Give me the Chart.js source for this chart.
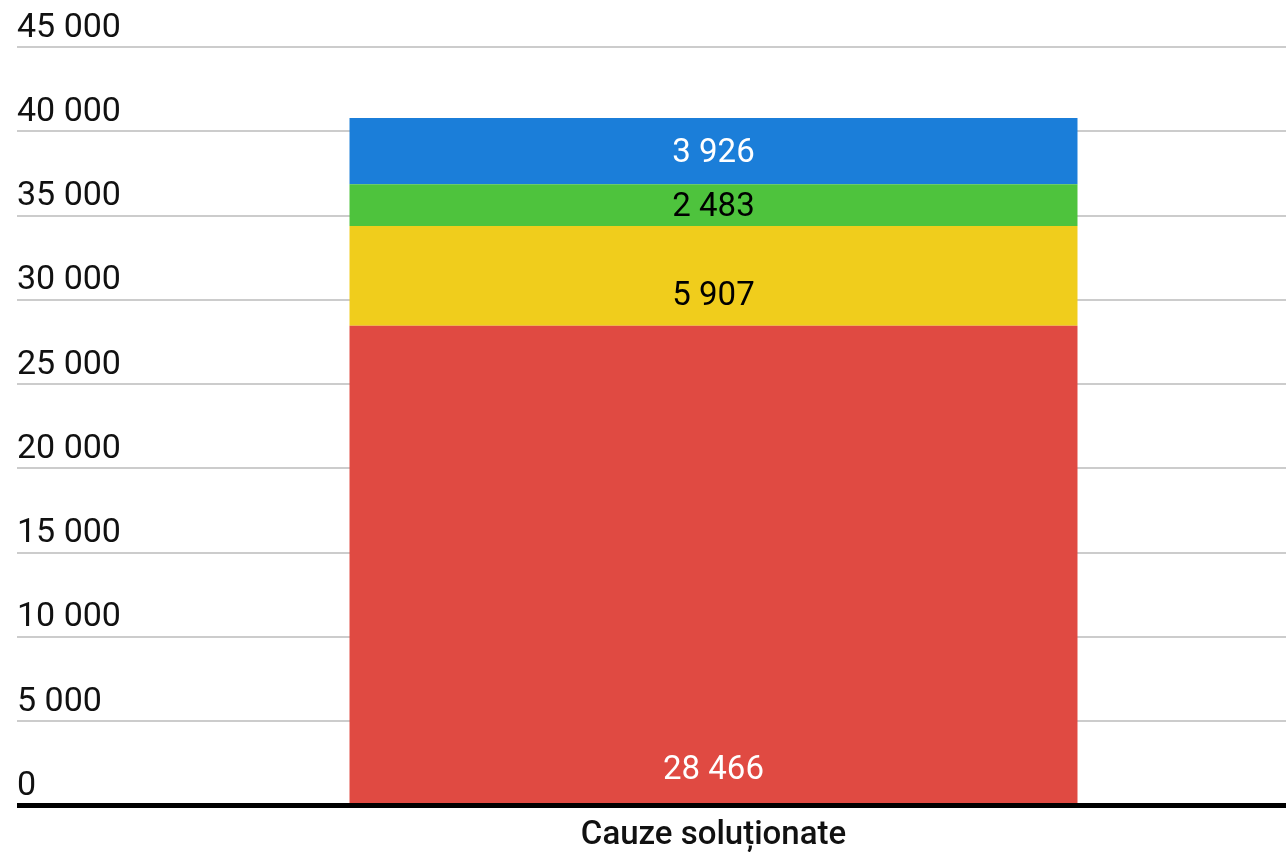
<!DOCTYPE html>
<html>
<head>
<meta charset="utf-8">
<script src="https://cdn.jsdelivr.net/npm/chart.js@4"></script>
<style>
  html, body { margin: 0; padding: 0; background: #fff; }
  #wrap { width: 1286px; height: 852px; position: relative; }
</style>
</head>
<body>
<div id="wrap"><canvas id="chart"></canvas></div>
<script>
// date
const categories = ['Cauze soluționate'];
const seriesNames = ['Seria 1', 'Seria 2', 'Seria 3', 'Seria 4'];
const seriesValues = [
    [28466],
    [5907],
    [2483],
    [3926]
];
const seriesColors = ['#E04A42', '#F0CD1C', '#4EC33D', '#1B7ED9'];
const labelColors = ['#ffffff', '#000000', '#000000', '#ffffff'];
const yTicks = [0, 5000, 10000, 15000, 20000, 25000, 30000, 35000, 40000, 45000];

// pozitia etichetei in segment (0 = sus, 1 = jos)
const labelPlace = [0.927, 0.675, 0.5, 0.5];

function fmt(v) {
    return String(v).replace(/\B(?=(\d{3})+(?!\d))/g, ' ');
}

const valueLabels = {
    id: 'valueLabels',
    afterDatasetsDraw(chart) {
        const ctx = chart.ctx;
        ctx.save();
        ctx.font = '33px Roboto';
        ctx.textAlign = 'center';
        ctx.textBaseline = 'middle';
        chart.data.datasets.forEach((ds, i) => {
            chart.getDatasetMeta(i).data.forEach((bar, j) => {
                const top = Math.min(bar.y, bar.base);
                const h = Math.abs(bar.base - bar.y);
                ctx.fillStyle = labelColors[i];
                // +3: cifrele stau putin sub mijlocul casetei de text
                ctx.fillText(fmt(ds.data[j]), bar.x, top + h * labelPlace[i] + 3);
            });
        });
        ctx.restore();
    }
};

new Chart(document.getElementById('chart'), {
    type: 'bar',
    data: {
        labels: categories,
        datasets: seriesValues.map((vals, i) => ({
            label: seriesNames[i],
            data: vals,
            backgroundColor: seriesColors[i],
            borderWidth: 0,
            barPercentage: 0.6358,
            categoryPercentage: 1
        }))
    },
    options: {
        responsive: true,
        maintainAspectRatio: false,
        animation: false,
        layout: { padding: { left: 17, top: 47, right: 0, bottom: -15 } },
        plugins: {
            legend: { display: false },
            tooltip: { enabled: false }
        },
        scales: {
            x: {
                stacked: true,
                grid: { display: false, drawTicks: false },
                border: { display: true, color: '#000', width: 5, z: 2 },
                ticks: {
                    color: '#111',
                    font: { family: 'Roboto', size: 33, weight: '500' },
                    padding: 11
                }
            },
            y: {
                stacked: true,
                min: 0,
                max: 45000,
                afterBuildTicks: axis => { axis.ticks = yTicks.map(v => ({ value: v })); },
                afterFit: axis => { axis.width = 124; },
                grid: {
                    color: c => (c.tick && c.tick.value === 0) ? '#000000' : '#cccccc',
                    lineWidth: c => (c.tick && c.tick.value === 0) ? 5 : 2,
                    drawTicks: true,
                    tickLength: 124
                },
                border: { display: false },
                ticks: {
                    crossAlign: 'far',
                    padding: 0,
                    labelOffset: -19,
                    color: '#111',
                    font: { family: 'Roboto', size: 34 },
                    callback: v => fmt(v)
                }
            }
        }
    },
    plugins: [valueLabels]
});
</script>
</body>
</html>
